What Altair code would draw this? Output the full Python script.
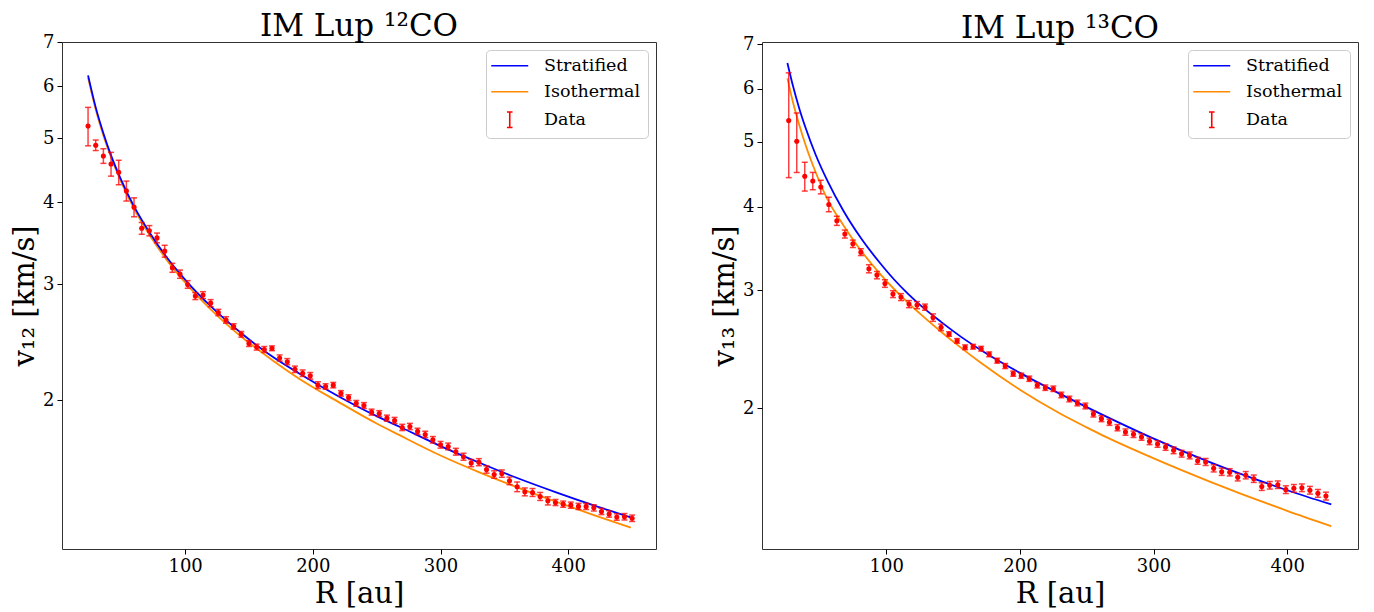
import altair as alt
import pandas as pd

# ---------------- data ----------------
# 12CO panel: observed rotation velocities
R12 = [24, 30, 36, 42, 48, 54, 60, 66, 72, 78, 84, 90, 96, 102, 108, 114, 120, 126,
       132, 138, 144, 150, 156, 162, 168, 174, 180, 186, 192, 198, 204, 210, 216, 222,
       228, 234, 240, 246, 252, 258, 264, 270, 276, 282, 288, 294, 300, 306, 312, 318,
       324, 330, 336, 342, 348, 354, 360, 366, 372, 378, 384, 390, 396, 402, 408, 414,
       420, 426, 432, 438, 444, 450]
V12 = [5.22, 4.88, 4.70, 4.57, 4.44, 4.16, 3.93, 3.65, 3.62, 3.53, 3.37, 3.18, 3.11, 3.00,
       2.88, 2.89, 2.81, 2.72, 2.65, 2.59, 2.52, 2.44, 2.41, 2.39, 2.40, 2.32, 2.29, 2.23,
       2.20, 2.18, 2.11, 2.10, 2.11, 2.05, 2.02, 1.98, 1.965, 1.92, 1.91, 1.88, 1.865, 1.82,
       1.826, 1.795, 1.776, 1.743, 1.713, 1.703, 1.672, 1.643, 1.607, 1.612, 1.571, 1.544,
       1.549, 1.510, 1.479, 1.453, 1.450, 1.430, 1.408, 1.400, 1.392, 1.387, 1.381, 1.381,
       1.374, 1.357, 1.345, 1.331, 1.332, 1.325]
E12 = [0.35, 0.09, 0.12, 0.19, 0.19, 0.145, 0.13, 0.075, 0.065, 0.06, 0.07, 0.05, 0.045,
       0.04, 0.035, 0.035, 0.035, 0.03, 0.03, 0.025, 0.025, 0.025, 0.025, 0.025, 0.02, 0.025,
       0.025, 0.025, 0.025, 0.025, 0.025, 0.02, 0.02, 0.02, 0.02, 0.02, 0.02, 0.02, 0.02,
       0.02, 0.02, 0.02, 0.02, 0.02, 0.02, 0.02, 0.02, 0.02, 0.02, 0.02, 0.02, 0.02, 0.02,
       0.02, 0.02, 0.02, 0.025, 0.02, 0.02, 0.02, 0.02, 0.015, 0.015, 0.015, 0.015, 0.015,
       0.015, 0.015, 0.015, 0.015, 0.015, 0.015]
# 12CO panel: model curves
RM12 = [24, 30, 36, 42, 50, 60, 72, 85, 102, 120, 145, 170, 189, 220, 250, 267.5, 300,
        330, 359, 390, 420, 449]
STRAT12 = [6.23, 5.57, 5.09, 4.71, 4.32, 3.94, 3.60, 3.31, 3.02, 2.78, 2.52, 2.32, 2.20,
           2.03, 1.893, 1.826, 1.705, 1.61, 1.528, 1.452, 1.386, 1.329]
ISO12 = [6.18, 5.53, 5.05, 4.68, 4.29, 3.91, 3.57, 3.28, 2.99, 2.75, 2.49, 2.29, 2.16,
         1.99, 1.845, 1.773, 1.65, 1.557, 1.479, 1.405, 1.34, 1.282]

# 13CO panel: observed rotation velocities
R13 = [27, 33, 39, 45, 51, 57, 63, 69, 75, 81, 87, 93, 99, 105, 111, 117, 123, 129, 135,
       141, 147, 153, 159, 165, 171, 177, 183, 189, 195, 201, 207, 213, 219, 225, 231, 237,
       243, 249, 255, 261, 267, 273, 279, 285, 291, 297, 303, 309, 315, 321, 327, 333, 339,
       345, 351, 357, 363, 369, 375, 381, 387, 393, 399, 405, 411, 417, 423, 429]
V13 = [5.38, 5.01, 4.44, 4.37, 4.28, 4.03, 3.81, 3.64, 3.52, 3.42, 3.23, 3.16, 3.07, 2.96,
       2.93, 2.86, 2.85, 2.83, 2.73, 2.64, 2.58, 2.52, 2.465, 2.47, 2.453, 2.406, 2.354,
       2.311, 2.251, 2.235, 2.212, 2.163, 2.145, 2.137, 2.092, 2.063, 2.035, 2.014, 1.959,
       1.928, 1.904, 1.869, 1.841, 1.827, 1.810, 1.783, 1.767, 1.749, 1.729, 1.709, 1.699,
       1.668, 1.661, 1.625, 1.606, 1.603, 1.576, 1.587, 1.568, 1.526, 1.533, 1.536, 1.510,
       1.517, 1.520, 1.507, 1.491, 1.477]
E13 = [0.96, 0.51, 0.22, 0.13, 0.10, 0.10, 0.06, 0.05, 0.045, 0.04, 0.045, 0.04, 0.04,
       0.035, 0.035, 0.035, 0.035, 0.03, 0.035, 0.03, 0.02, 0.02, 0.02, 0.02, 0.02, 0.02,
       0.02, 0.02, 0.02, 0.02, 0.02, 0.02, 0.02, 0.02, 0.02, 0.02, 0.02, 0.02, 0.02, 0.02,
       0.02, 0.02, 0.02, 0.02, 0.02, 0.02, 0.02, 0.02, 0.02, 0.02, 0.02, 0.02, 0.02, 0.02,
       0.02, 0.02, 0.02, 0.02, 0.02, 0.02, 0.02, 0.02, 0.02, 0.02, 0.02, 0.02, 0.02, 0.02]
# 13CO panel: model curves
RM13 = [26, 30, 35, 40, 47, 56, 68, 81, 95, 106, 116.5, 125, 141, 156, 171, 200, 230,
        250, 260, 298, 343, 400, 433]
STRAT13 = [6.56, 6.08, 5.60, 5.22, 4.79, 4.37, 3.94, 3.59, 3.30, 3.11, 2.96, 2.855, 2.69,
           2.555, 2.44, 2.257, 2.10, 2.006, 1.962, 1.808, 1.657, 1.507, 1.435]
ISO13 = [6.22, 5.75, 5.29, 4.92, 4.51, 4.10, 3.75, 3.44, 3.18, 3.01, 2.87, 2.77, 2.60,
         2.46, 2.335, 2.13, 1.963, 1.871, 1.828, 1.689, 1.55, 1.404, 1.332]

SERIES = ["Stratified", "Isothermal", "Data"]
COLORS = ["blue", "darkorange", "red"]
FONT = "DejaVu Serif"
SYMBOL_EXPR = ("datum.value === 'Data' ? "
               "'M0,-1.1V1.1M-0.4,-1.1H0.4M-0.4,1.1H0.4' : 'M-2.64,0H2.64'")


def panel(title, ytitle, R, V, E, RM, STRAT, ISO, xdom, ydom, width):
    obs = pd.DataFrame({"R": R, "v": V,
                        "lo": [v - e for v, e in zip(V, E)],
                        "hi": [v + e for v, e in zip(V, E)]})
    strat = pd.DataFrame({"R": RM, "v": STRAT, "model": "Stratified"})
    iso = pd.DataFrame({"R": RM, "v": ISO, "model": "Isothermal"})

    x = alt.X("R:Q", scale=alt.Scale(domain=xdom, nice=False, zero=False),
              axis=alt.Axis(values=[100, 200, 300, 400], format="d", title="R [au]"))

    def y(field):
        return alt.Y(f"{field}:Q",
                     scale=alt.Scale(type="log", domain=ydom, nice=False, zero=False),
                     axis=alt.Axis(values=[2, 3, 4, 5, 6, 7], format="d", title=ytitle))

    legend = alt.Legend(
        title=None, orient="top-right", offset=8, fillColor="white",
        strokeColor="#cccccc", cornerRadius=4, padding=7,
        labelFont=FONT, labelFontSize=17.5, labelColor="black",
        symbolSize=196, symbolStrokeWidth=1.6, symbolOffset=8, labelOffset=25.5,
        rowPadding=7, symbolType=alt.ExprRef(expr=SYMBOL_EXPR),
    )
    color = alt.Color("model:N", scale=alt.Scale(domain=SERIES, range=COLORS),
                      legend=legend)

    iso_line = alt.Chart(iso).mark_line(strokeWidth=1.8, interpolate="monotone").encode(
        x=x, y=y("v"), color=color)
    strat_line = alt.Chart(strat).mark_line(strokeWidth=1.8, interpolate="monotone").encode(
        x=x, y=y("v"), color=color)
    bars = alt.Chart(obs).mark_rule(color="red", opacity=0.75, strokeWidth=1.5).encode(
        x=x, y=y("lo"), y2="hi:Q")
    cap_lo = alt.Chart(obs).mark_tick(color="red", opacity=0.75, orient="horizontal",
                                      size=6, thickness=1.5).encode(x=x, y=y("lo"))
    cap_hi = alt.Chart(obs).mark_tick(color="red", opacity=0.75, orient="horizontal",
                                      size=6, thickness=1.5).encode(x=x, y=y("hi"))
    pts = alt.Chart(obs).mark_circle(color="red", opacity=1, size=26).encode(
        x=x, y=y("v"))

    return alt.layer(iso_line, strat_line, bars, cap_lo, cap_hi, pts).properties(
        width=width, height=507,
        title=alt.TitleParams(text=title, font=FONT, fontSize=31, fontWeight="normal",
                              anchor="middle", offset=-10, color="black"),
    )


left = panel("IM Lup ¹²CO", "v₁₂ [km/s]", R12, V12, E12, RM12, STRAT12, ISO12,
             [3.6, 468.7], [1.19, 7.0], 594)
right = panel("IM Lup ¹³CO", "v₁₃ [km/s]", R13, V13, E13, RM13, STRAT13, ISO13,
              [7, 453], [1.231, 7.05], 596)

chart = alt.hconcat(left, right, spacing=53).resolve_scale(
    x="independent", y="independent", color="independent"
).resolve_legend(color="independent").properties(
    padding={"left": 2, "top": 2, "right": 5, "bottom": 0}
).configure_axis(
    labelFont=FONT, labelFontSize=18, labelColor="black", labelPadding=3,
    titleFont=FONT, titleFontSize=29, titleFontWeight="normal", titleColor="black",
    tickColor="black", tickSize=5, tickWidth=1, domain=False, grid=False,
).configure_axisY(titlePadding=3).configure_axisX(titlePadding=4).configure_view(
    stroke="#333333", strokeWidth=1
)

chart.save("out.html", embed_options={"renderer": "svg", "actions": False})
